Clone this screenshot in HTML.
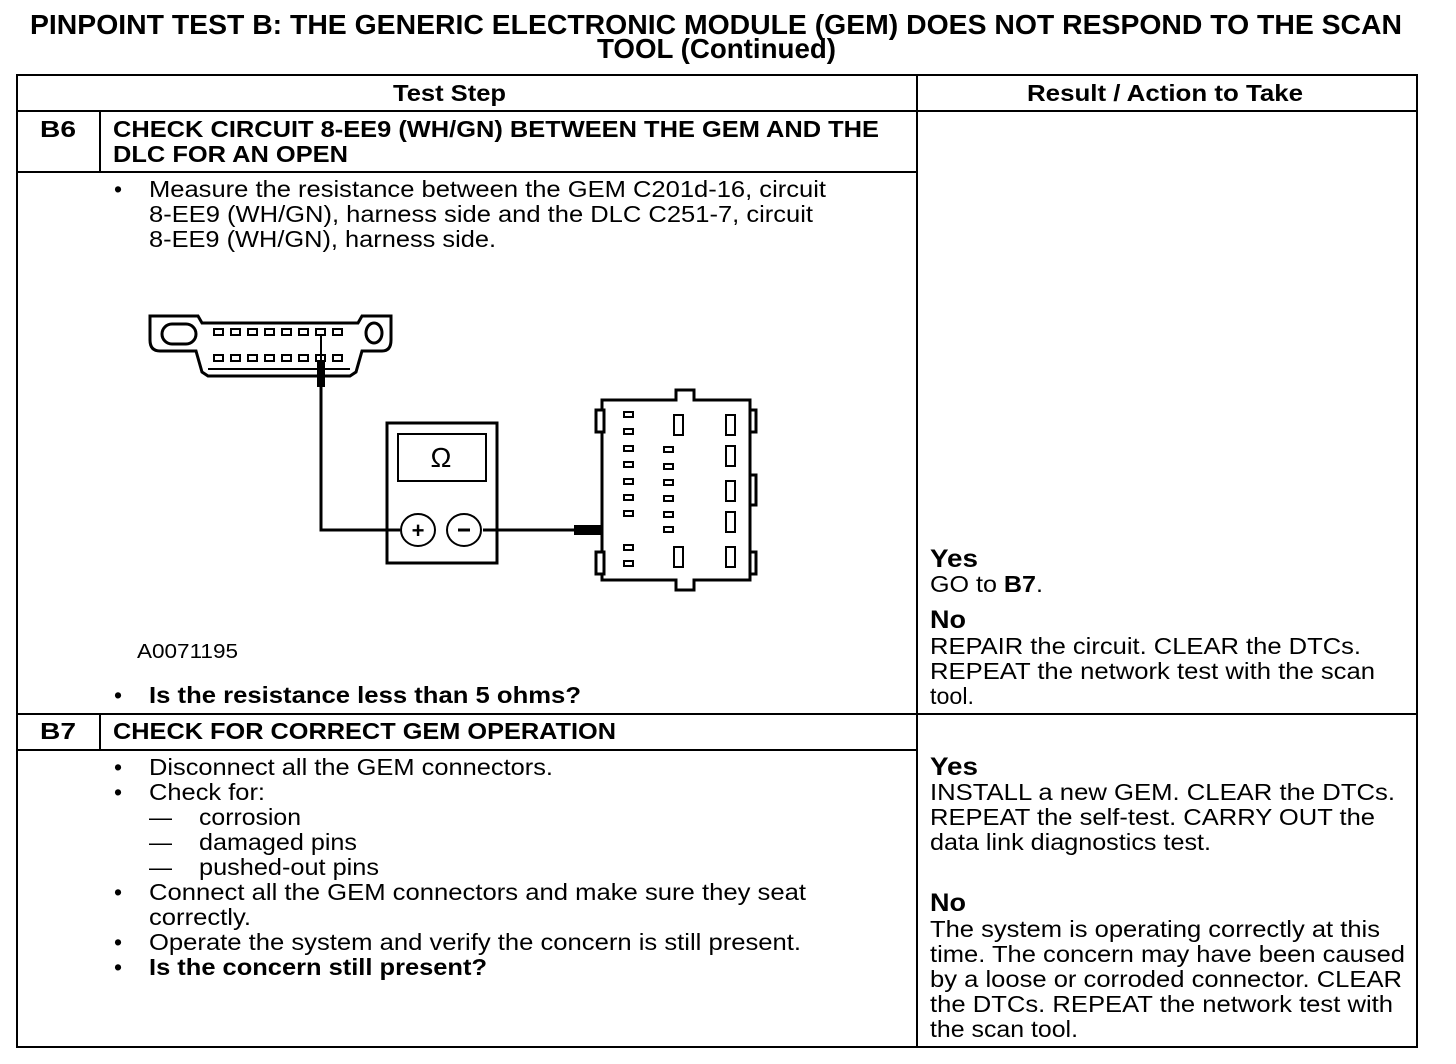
<!DOCTYPE html>
<html><head><meta charset="utf-8"><style>
html,body{margin:0;padding:0;background:#fff}
svg{display:block}
text{font-family:"Liberation Sans",Arial,sans-serif;fill:#000}
.b{font-weight:bold}
.t{font-size:23px}
.h{font-size:23px;font-weight:bold}
.y{font-size:25px;font-weight:bold}
</style></head><body>
<svg width="1456" height="1064" viewBox="0 0 1456 1064" xmlns="http://www.w3.org/2000/svg">
<rect width="1456" height="1064" fill="#fff"/>
<text x="30" y="34" class="b" font-size="28" textLength="1372" lengthAdjust="spacingAndGlyphs">PINPOINT TEST  B: THE GENERIC ELECTRONIC MODULE (GEM) DOES NOT RESPOND TO THE SCAN</text>
<text x="597" y="58" class="b" font-size="28" textLength="239" lengthAdjust="spacingAndGlyphs">TOOL (Continued)</text>

<g stroke="#000" stroke-width="2" fill="none">
<rect x="17" y="75" width="1400" height="972"/>
<line x1="917" y1="75" x2="917" y2="1047"/>
<line x1="17" y1="111" x2="1417" y2="111"/>
<line x1="17" y1="172" x2="917" y2="172"/>
<line x1="17" y1="714" x2="1417" y2="714"/>
<line x1="17" y1="750" x2="917" y2="750"/>
<line x1="100" y1="111" x2="100" y2="172"/>
<line x1="100" y1="714" x2="100" y2="750"/>
</g>

<text x="393" y="101" class="h" textLength="113" lengthAdjust="spacingAndGlyphs">Test Step</text>
<text x="1027" y="101" class="h" textLength="276" lengthAdjust="spacingAndGlyphs">Result / Action to Take</text>

<text x="40" y="137" class="h" textLength="36" lengthAdjust="spacingAndGlyphs">B6</text>
<text x="113" y="137" class="h" textLength="766" lengthAdjust="spacingAndGlyphs">CHECK CIRCUIT 8-EE9 (WH/GN) BETWEEN THE GEM AND THE</text>
<text x="113" y="162" class="h" textLength="235" lengthAdjust="spacingAndGlyphs">DLC FOR AN OPEN</text>

<text x="114" y="197" class="t">•</text>
<text x="149" y="197" class="t" textLength="677" lengthAdjust="spacingAndGlyphs">Measure the resistance between the GEM C201d-16, circuit</text>
<text x="149" y="222" class="t" textLength="664" lengthAdjust="spacingAndGlyphs">8-EE9 (WH/GN), harness side and the DLC C251-7, circuit</text>
<text x="149" y="247" class="t" textLength="347" lengthAdjust="spacingAndGlyphs">8-EE9 (WH/GN), harness side.</text>

<text x="137" y="658" font-size="20" textLength="101" lengthAdjust="spacingAndGlyphs">A0071195</text>
<text x="114" y="703" class="t">•</text>
<text x="149" y="703" class="h" textLength="432" lengthAdjust="spacingAndGlyphs">Is the resistance less than 5 ohms?</text>

<text x="930" y="567" class="y" textLength="48" lengthAdjust="spacingAndGlyphs">Yes</text>
<text x="930" y="592" class="t" textLength="113" lengthAdjust="spacingAndGlyphs">GO to <tspan class="b">B7</tspan>.</text>
<text x="930" y="628" class="y" textLength="36" lengthAdjust="spacingAndGlyphs">No</text>
<text x="930" y="654" class="t" textLength="431" lengthAdjust="spacingAndGlyphs">REPAIR the circuit. CLEAR the DTCs.</text>
<text x="930" y="679" class="t" textLength="445" lengthAdjust="spacingAndGlyphs">REPEAT the network test with the scan</text>
<text x="930" y="704" class="t" textLength="44" lengthAdjust="spacingAndGlyphs">tool.</text>

<text x="40" y="739" class="h" textLength="36" lengthAdjust="spacingAndGlyphs">B7</text>
<text x="113" y="739" class="h" textLength="503" lengthAdjust="spacingAndGlyphs">CHECK FOR CORRECT GEM OPERATION</text>

<text x="114" y="775" class="t">•</text>
<text x="149" y="775" class="t" textLength="404" lengthAdjust="spacingAndGlyphs">Disconnect all the GEM connectors.</text>
<text x="114" y="800" class="t">•</text>
<text x="149" y="800" class="t" textLength="116" lengthAdjust="spacingAndGlyphs">Check for:</text>
<text x="149" y="825" class="t">—</text>
<text x="199" y="825" class="t" textLength="102" lengthAdjust="spacingAndGlyphs">corrosion</text>
<text x="149" y="850" class="t">—</text>
<text x="199" y="850" class="t" textLength="158" lengthAdjust="spacingAndGlyphs">damaged pins</text>
<text x="149" y="875" class="t">—</text>
<text x="199" y="875" class="t" textLength="180" lengthAdjust="spacingAndGlyphs">pushed-out pins</text>
<text x="114" y="900" class="t">•</text>
<text x="149" y="900" class="t" textLength="657" lengthAdjust="spacingAndGlyphs">Connect all the GEM connectors and make sure they seat</text>
<text x="149" y="925" class="t" textLength="102" lengthAdjust="spacingAndGlyphs">correctly.</text>
<text x="114" y="950" class="t">•</text>
<text x="149" y="950" class="t" textLength="652" lengthAdjust="spacingAndGlyphs">Operate the system and verify the concern is still present.</text>
<text x="114" y="975" class="t">•</text>
<text x="149" y="975" class="h" textLength="338" lengthAdjust="spacingAndGlyphs">Is the concern still present?</text>

<text x="930" y="775" class="y" textLength="48" lengthAdjust="spacingAndGlyphs">Yes</text>
<text x="930" y="800" class="t" textLength="465" lengthAdjust="spacingAndGlyphs">INSTALL a new GEM. CLEAR the DTCs.</text>
<text x="930" y="825" class="t" textLength="445" lengthAdjust="spacingAndGlyphs">REPEAT the self-test. CARRY OUT the</text>
<text x="930" y="850" class="t" textLength="281" lengthAdjust="spacingAndGlyphs">data link diagnostics test.</text>
<text x="930" y="911" class="y" textLength="36" lengthAdjust="spacingAndGlyphs">No</text>
<text x="930" y="937" class="t" textLength="450" lengthAdjust="spacingAndGlyphs">The system is operating correctly at this</text>
<text x="930" y="962" class="t" textLength="475" lengthAdjust="spacingAndGlyphs">time. The concern may have been caused</text>
<text x="930" y="987" class="t" textLength="472" lengthAdjust="spacingAndGlyphs">by a loose or corroded connector. CLEAR</text>
<text x="930" y="1012" class="t" textLength="463" lengthAdjust="spacingAndGlyphs">the DTCs. REPEAT the network test with</text>
<text x="930" y="1037" class="t" textLength="148" lengthAdjust="spacingAndGlyphs">the scan tool.</text>

<!-- DLC connector -->
<g stroke="#000" stroke-width="3" fill="#fff">
<path d="M150,316 L150,340 Q150,351 160,351 L196,351 L202,372 L208,376 L350,376 L356,372 L362,351 L382,351 Q391,351 391,340 L391,316 L362,316 L358,323 L202,323 L198,316 Z"/>
<rect x="162" y="324" width="34" height="20" rx="10"/>
<ellipse cx="374" cy="333" rx="8" ry="10"/>
</g>
<g stroke="#000" stroke-width="2" fill="#fff">
<rect x="214" y="329" width="9" height="6"/><rect x="231" y="329" width="9" height="6"/><rect x="248" y="329" width="9" height="6"/><rect x="265" y="329" width="9" height="6"/><rect x="282" y="329" width="9" height="6"/><rect x="299" y="329" width="9" height="6"/><rect x="316" y="329" width="9" height="6"/><rect x="333" y="329" width="9" height="6"/>
<rect x="214" y="355" width="9" height="6"/><rect x="231" y="355" width="9" height="6"/><rect x="248" y="355" width="9" height="6"/><rect x="265" y="355" width="9" height="6"/><rect x="282" y="355" width="9" height="6"/><rect x="299" y="355" width="9" height="6"/><rect x="316" y="355" width="9" height="6"/><rect x="333" y="355" width="9" height="6"/>
</g>
<line x1="208" y1="369" x2="350" y2="369" stroke="#000" stroke-width="2"/>
<line x1="321" y1="335" x2="321" y2="360" stroke="#000" stroke-width="2"/>
<rect x="317" y="360" width="8" height="27" fill="#000"/>
<!-- wires -->
<polyline points="321,387 321,530 400,530" fill="none" stroke="#000" stroke-width="3"/>
<line x1="483" y1="530" x2="628" y2="530" stroke="#000" stroke-width="3"/>
<rect x="574" y="525" width="27" height="10" fill="#000"/>
<!-- meter -->
<rect x="387" y="423" width="110" height="140" fill="none" stroke="#000" stroke-width="3"/>
<rect x="398" y="434" width="88" height="47" fill="none" stroke="#000" stroke-width="2"/>
<text x="441" y="467" font-size="28" text-anchor="middle" font-family="Liberation Serif,serif">Ω</text>
<ellipse cx="418" cy="530" rx="17" ry="16" fill="#fff" stroke="#000" stroke-width="2"/>
<ellipse cx="464" cy="530" rx="17" ry="16" fill="#fff" stroke="#000" stroke-width="2"/>
<text x="418" y="538" font-size="22" text-anchor="middle" class="b">+</text>
<line x1="458" y1="530" x2="470" y2="530" stroke="#000" stroke-width="3"/>
<!-- GEM connector -->
<g stroke="#000" stroke-width="3" fill="#fff">
<path d="M602,400 L676,400 L676,390 L694,390 L694,400 L750,400 L750,580 L694,580 L694,590 L676,590 L676,580 L602,580 Z"/>
<rect x="596" y="410" width="8" height="22"/>
<rect x="596" y="552" width="8" height="22"/>
<rect x="750" y="410" width="6" height="22"/>
<rect x="750" y="552" width="6" height="22"/>
<rect x="750" y="475" width="6" height="30"/>
</g>
<g stroke="#000" stroke-width="2" fill="#fff">
<rect x="624" y="412" width="9" height="5"/><rect x="624" y="429" width="9" height="5"/><rect x="624" y="446" width="9" height="5"/><rect x="624" y="462" width="9" height="5"/><rect x="624" y="479" width="9" height="5"/><rect x="624" y="495" width="9" height="5"/><rect x="624" y="511" width="9" height="5"/><rect x="624" y="545" width="9" height="5"/><rect x="624" y="561" width="9" height="5"/>
<rect x="664" y="447" width="9" height="5"/><rect x="664" y="464" width="9" height="5"/><rect x="664" y="480" width="9" height="5"/><rect x="664" y="496" width="9" height="5"/><rect x="664" y="512" width="9" height="5"/><rect x="664" y="527" width="9" height="5"/>
<rect x="674" y="415" width="9" height="20"/><rect x="674" y="547" width="9" height="20"/>
<rect x="726" y="415" width="9" height="20"/><rect x="726" y="446" width="9" height="20"/><rect x="726" y="481" width="9" height="20"/><rect x="726" y="512" width="9" height="20"/><rect x="726" y="547" width="9" height="20"/>
</g>
</svg>
</body></html>
